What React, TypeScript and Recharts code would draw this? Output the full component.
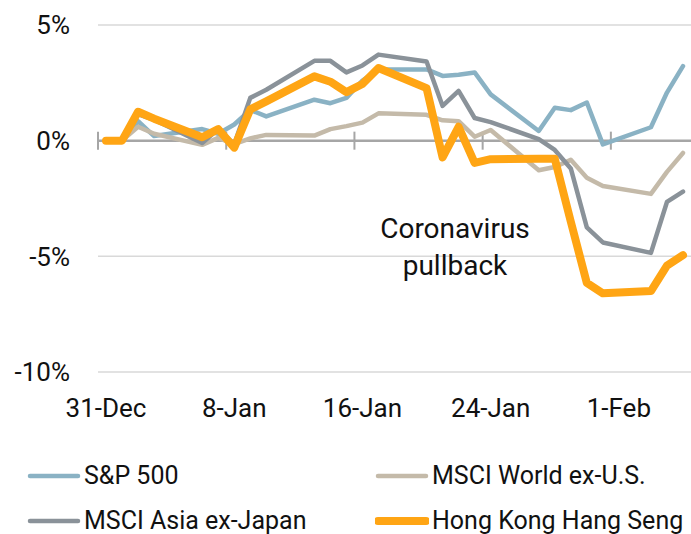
import React from 'react';
import { LineChart, Line, XAxis, YAxis, CartesianGrid, ReferenceLine, Legend } from 'recharts';

// day offsets from 31-Dec (trading days)
const dayOffsets = [0, 1, 2, 3, 6, 7, 8, 9, 10, 13, 14, 15, 16, 17, 20, 21, 22, 23, 24, 27, 28, 29, 30, 31, 34, 35, 36];
const sp500 = [0, 0, 0.84, 0.2, 0.5, 0.3, 0.7, 1.33, 1.05, 1.77, 1.62, 1.85, 2.6, 3.08, 3.08, 2.8, 2.85, 2.95, 2.0, 0.42, 1.42, 1.32, 1.65, -0.16, 0.58, 2.08, 3.22];
const msciWorld = [0, 0, 0.6, 0.3, -0.18, 0.12, -0.15, 0.1, 0.25, 0.22, 0.5, 0.63, 0.78, 1.18, 1.12, 0.88, 0.84, 0.17, 0.46, -1.28, -1.14, -0.83, -1.6, -1.96, -2.3, -1.35, -0.53];
const msciAsia = [0, 0, 1.15, 0.9, -0.1, 0.5, -0.15, 1.85, 2.2, 3.45, 3.45, 2.95, 3.25, 3.72, 3.42, 1.5, 2.15, 0.98, 0.8, 0.07, -0.4, -1.2, -3.75, -4.4, -4.85, -2.65, -2.2];
const hangSeng = [0, 0, 1.25, 0.95, 0.15, 0.5, -0.3, 1.35, 1.7, 2.78, 2.55, 2.1, 2.45, 3.14, 2.27, -0.72, 0.6, -0.96, -0.8, -0.78, -0.78, -3.5, -6.15, -6.6, -6.5, -5.4, -4.95];

const tickDays = [0, 8, 16, 24, 32];
const tickLabels = ['31-Dec', '8-Jan', '16-Jan', '24-Jan', '1-Feb'];
const tickMarkDays = [-0.5, 7.5, 15.5, 23.5, 31.5];
const yTicks = [-10, -5, 0, 5];

const seriesNames = ['S&P 500', 'MSCI World ex-U.S.', 'MSCI Asia ex-Japan', 'Hong Kong Hang Seng'];

const data = dayOffsets.map((d, i) => ({
  day: d,
  sp500: sp500[i],
  world: msciWorld[i],
  asia: msciAsia[i],
  hk: hangSeng[i],
}));

const FONT = 'Roboto, "Noto Sans", sans-serif';

const renderLegend = (props: any) => {
  const payload = [...(props.payload || [])].sort(
    (a: any, b: any) => seriesNames.indexOf(a.value) - seriesNames.indexOf(b.value)
  );
  return (
    <div style={{ position: 'relative', width: 691, height: 86, fontFamily: FONT }}>
      {payload.map((entry: any, i: number) => {
        const col = i % 2;
        const row = Math.floor(i / 2);
        const left = col ? 375 : 27;
        const centerY = row ? 73 : 28;
        const w = entry.payload?.strokeWidth || 4;
        return (
          <div
            key={i}
            style={{
              position: 'absolute',
              left,
              top: centerY - 16,
              height: 32,
              display: 'flex',
              alignItems: 'center',
              whiteSpace: 'nowrap',
            }}
          >
            <svg width={54} height={12} style={{ marginRight: 3 }}>
              <line x1={3} y1={6} x2={51} y2={6} stroke={entry.color} strokeWidth={w} strokeLinecap="round" />
            </svg>
            <span style={{ fontSize: 25, color: '#111', lineHeight: '32px' }}>{entry.value}</span>
          </div>
        );
      })}
    </div>
  );
};

export default function App() {
  return (
    <div style={{ position: 'absolute', left: 0, top: 0, width: 691, height: 534, background: '#fff' }}>
      <LineChart
        width={691}
        height={534}
        data={data}
        margin={{ top: 25, right: 0, left: 0, bottom: 0 }}
      >
        <CartesianGrid vertical={false} stroke="#d9d9d9" strokeWidth={1.5} />
        <XAxis
          dataKey="day"
          type="number"
          domain={[-0.5, 36.5]}
          ticks={tickDays}
          interval={0}
          tickFormatter={(v: number) => tickLabels[tickDays.indexOf(v)] ?? ''}
          axisLine={false}
          tickLine={false}
          tickSize={0}
          tickMargin={27}
          height={76}
          tick={{ fontSize: 26, fill: '#111', fontFamily: FONT }}
        />
        <YAxis
          type="number"
          domain={[-10, 5]}
          ticks={yTicks}
          interval={0}
          tickFormatter={(v: number) => `${v}%`}
          axisLine={false}
          tickLine={false}
          tickSize={0}
          tickMargin={28}
          width={98}
          tick={{ fontSize: 26, fill: '#111', fontFamily: FONT }}
        />
        <ReferenceLine y={0} stroke="#a6a6a6" strokeWidth={2.5} />
        {tickMarkDays.map((d) => (
          <ReferenceLine
            key={d}
            segment={[{ x: d, y: -0.39 }, { x: d, y: 0.39 }]}
            stroke="#a6a6a6"
            strokeWidth={2}
          />
        ))}
        <Legend verticalAlign="bottom" content={renderLegend} wrapperStyle={{ left: 0, bottom: 0, width: 691, height: 86 }} />
        <Line dataKey="sp500" name={seriesNames[0]} stroke="#8ab2c4" strokeWidth={4.5} dot={false} isAnimationActive={false} strokeLinecap="round" strokeLinejoin="round" />
        <Line dataKey="world" name={seriesNames[1]} stroke="#c4baa9" strokeWidth={4.5} dot={false} isAnimationActive={false} strokeLinecap="round" strokeLinejoin="round" />
        <Line dataKey="asia" name={seriesNames[2]} stroke="#8a9299" strokeWidth={4.5} dot={false} isAnimationActive={false} strokeLinecap="round" strokeLinejoin="round" />
        <Line dataKey="hk" name={seriesNames[3]} stroke="#ffa514" strokeWidth={8} dot={false} isAnimationActive={false} strokeLinecap="round" strokeLinejoin="round" />
      </LineChart>
      <div
        style={{
          position: 'absolute',
          left: 355,
          top: 210,
          width: 200,
          textAlign: 'center',
          fontFamily: FONT,
          fontSize: 28,
          lineHeight: '37px',
          color: '#111',
        }}
      >
        Coronavirus
        <br />
        pullback
      </div>
    </div>
  );
}
